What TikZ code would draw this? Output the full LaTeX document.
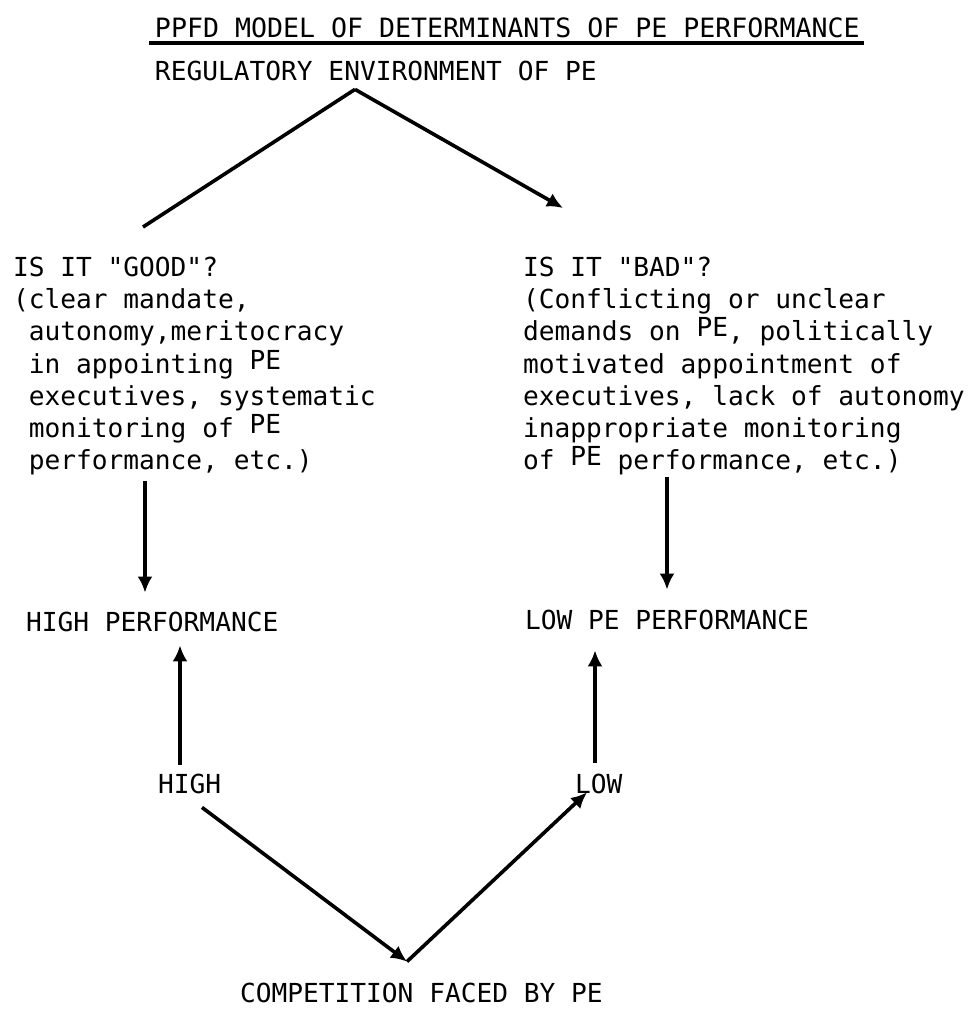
\documentclass[tikz,border=0pt]{standalone}
\usepackage{fontspec}
\usetikzlibrary{arrows.meta}

\newfontfamily\typefont{DejaVu Sans Mono}
\newcommand{\rpe}{\raisebox{0.15em}{PE}}

\begin{document}
\begin{tikzpicture}[
    x=0.5pt, y=-0.5pt,
    every node/.style={
        inner sep=0pt,
        outer sep=0pt,
        font=\typefont\fontsize{13.1}{16.1}\selectfont
    },
    heading/.style={anchor=base west},
    block/.style={anchor=north west, align=left},
    link/.style={draw, line width=1.8pt},
    arrow/.style={link, -{Latex[length=8pt,width=7.5pt]}}
]
\useasboundingbox (0,0) rectangle (979,1009);

% title and top level
\node[heading, font=\typefont\fontsize{13.3}{16}\selectfont] (title) at (155,37)
    {PPFD MODEL OF DETERMINANTS OF PE PERFORMANCE};
\draw[line width=1.6pt] ([shift={(-6,6)}]title.base west) -- ([shift={(4,6)}]title.base east);
\node[heading] (reg) at (155,80) {REGULATORY ENVIRONMENT OF PE};

% the two kinds of environment
\node[block] (good) at (13,257) {IS IT "GOOD"?\\
    (clear mandate,\\
    \phantom{(}autonomy,meritocracy\\
    \phantom{(}in appointing \rpe\\
    \phantom{(}executives, systematic\\
    \phantom{(}monitoring of \rpe\\
    \phantom{(}performance, etc.)};
\node[block] (bad) at (523,257) {IS IT "BAD"?\\
    (Conflicting or unclear\\
    demands on \rpe, politically\\
    motivated appointment of\\
    executives, lack of autonomy\\
    inappropriate monitoring\\
    of \rpe\ performance, etc.)};

% outcomes and competition
\node[heading] (hp) at (26,631) {HIGH PERFORMANCE};
\node[heading] (lp) at (525,629) {LOW PE PERFORMANCE};
\node[heading] (high) at (158,793) {HIGH};
\node[heading] (low) at (575,793) {LOW};
\node[heading] (comp) at (240,1002) {COMPETITION FACED BY PE};

% connectors
\coordinate (apex) at ([shift={(200,9)}]reg.south west);
\draw[link] (apex) -- ([shift={(130,-30)}]good.north west);
\draw[arrow] (apex) -- ([shift={(40,-49)}]bad.north west);

\draw[arrow] ([shift={(132,6)}]good.south west) -- ([shift={(119,-19)}]hp.north west);
\draw[arrow] ([shift={(144,2)}]bad.south west) -- ([shift={(142,-20)}]lp.north west);

\draw[arrow] ([shift={(22,-9)}]high.north west) -- ([shift={(154,14)}]hp.south west);
\draw[arrow] ([shift={(20,-11)}]low.north west) -- ([shift={(70,21)}]lp.south west);

\coordinate (vtx) at ([shift={(167,-21)}]comp.north west);
\draw[arrow] ([shift={(44,14)}]high.south west) -- (vtx);
\draw[arrow] (vtx) -- ([shift={(12,-1)}]low.south west);
\end{tikzpicture}
\end{document}
